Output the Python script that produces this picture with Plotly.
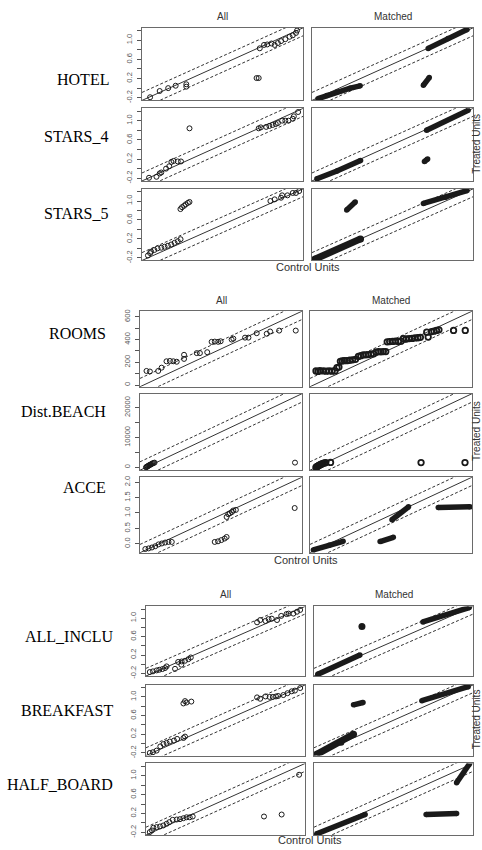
import plotly.graph_objects as go

# ---------------- data ----------------
variables = ["HOTEL", "STARS_4", "STARS_5", "ROOMS", "Dist.BEACH", "ACCE",
             "ALL_INCLU", "BREAKFAST", "HALF_BOARD"]
column_titles = ["All", "Matched"]
x_title = "Control Units"
y_title = "Treated Units"

# min / max of the plotted quantiles per variable
data_min = [-0.2, -0.2, -0.2, 10, 0, -0.2, -0.2, -0.2, -0.2]
data_max = [1.2, 1.2, 1.2, 625, 23700, 2.07, 1.2, 1.2, 1.2]

# y tick values / labels
bin_tickvals = [-0.2, 0.0, 0.2, 0.4, 0.6, 0.8, 1.0, 1.2]
bin_ticktext = ["-0.2", "", "0.2", "", "0.6", "", "1.0", ""]
rooms_tickvals = [0, 100, 200, 300, 400, 500, 600]
rooms_ticktext = ["0", "", "200", "", "400", "", "600"]
beach_tickvals = [0, 5000, 10000, 15000, 20000]
beach_ticktext = ["0", "", "10000", "", "20000"]
acce_tickvals = [0, 0.5, 1.0, 1.5, 2.0]
acce_ticktext = ["0.0", "0.5", "1.0", "1.5", "2.0"]

# ---- "All" panels: control quantiles (x) vs treated quantiles (y) ----
hotel_all_ctrl = [-0.18, -0.09, -0.01, 0.06, 0.16, 0.16, 0.82, 0.84, 0.85, 0.89, 0.92,
                  0.96, 0.99, 1.02, 1.05, 1.09, 1.13, 1.16, 1.19, 1.2]
hotel_all_trt = [-0.19, -0.06, 0.0, 0.05, 0.08, 0.03, 0.21, 0.21, 0.83, 0.9, 0.91,
                 0.93, 0.9, 0.94, 0.98, 1.02, 1.07, 1.1, 1.15, 1.2]

stars4_all_ctrl = [-0.19, -0.12, -0.09, -0.075, -0.03, 0.0, 0.02, 0.04, 0.08, 0.11, 0.19,
                   0.84, 0.86, 0.91, 0.94, 0.97, 1.0, 1.02, 1.06, 1.09, 1.12, 1.16, 1.17, 1.21]
stars4_all_trt = [-0.19, -0.17, -0.1, -0.08, 0.0, 0.05, 0.14, 0.16, 0.15, 0.15, 0.84,
                  0.84, 0.86, 0.87, 0.89, 0.91, 0.93, 0.95, 1.0, 1.0, 1.0, 1.04, 1.09, 1.18]

stars5_all_ctrl = [-0.2, -0.18, -0.17, -0.14, -0.11, -0.075, -0.044, -0.013, 0.018, 0.05, 0.08, 0.106,
                   0.105, 0.12, 0.14, 0.155, 0.175, 0.19,
                   0.95, 0.99, 1.05, 1.06, 1.11, 1.16, 1.19, 1.22]
stars5_all_trt = [-0.15, -0.1, -0.07, -0.035, 0.0, 0.013, 0.034, 0.055, 0.082, 0.117, 0.151, 0.193,
                  0.83, 0.87, 0.9, 0.93, 0.96, 0.98,
                  1.0, 1.035, 1.07, 1.12, 1.12, 1.17, 1.17, 1.21]

rooms_all_ctrl = [12, 26, 60, 74, 94, 108, 122, 136, 166, 166, 218, 231, 261, 279, 292, 306,
                  316, 361, 368, 416, 430, 464, 505, 519, 556, 624]
rooms_all_trt = [124, 119, 124, 153, 209, 212, 209, 205, 230, 266, 281, 281, 289, 380, 382, 380,
                 385, 400, 408, 417, 417, 456, 451, 471, 479, 479]

beach_all_ctrl = [0, 80, 180, 260, 350, 450, 560, 680, 800, 930, 1050, 1200, 1350, 23540]
beach_all_trt = [30, 150, 250, 380, 500, 640, 780, 900, 1050, 1200, 1350, 1480, 1600, 1600]

acce_all_ctrl = [-0.21, -0.16, -0.11, -0.06, -0.01, 0.04, 0.09, 0.14, 0.19,
                 0.84, 0.89, 0.94, 0.99, 1.02,
                 1.02, 1.045, 1.07, 1.1, 1.12, 1.16, 2.05]
acce_all_trt = [-0.17, -0.15, -0.12, -0.08, -0.02, 0.01, 0.04, 0.06, 0.06,
                0.06, 0.08, 0.12, 0.17, 0.22,
                0.87, 0.96, 0.99, 1.03, 1.08, 1.1, 1.16]

allinc_all_ctrl = [-0.22, -0.19, -0.155, -0.13, -0.1, -0.075, -0.06, 0.02, 0.05, 0.08, 0.083,
                   0.115, 0.147, 0.17,
                   0.8, 0.83, 0.88, 0.91, 0.94, 0.99, 1.03, 1.08, 1.1, 1.145, 1.18, 1.21]
allinc_all_trt = [-0.17, -0.155, -0.134, -0.12, -0.105, -0.083, -0.047, -0.1, 0.05, -0.01, 0.06,
                  0.075, 0.11, 0.147,
                  0.91, 0.96, 0.94, 0.98, 0.99, 0.96, 1.05, 1.09, 1.1, 1.1, 1.14, 1.18]

bkf_all_ctrl = [0.1, 0.115, 0.13, 0.175,
                -0.22, -0.19, -0.155, -0.12, -0.09, -0.06, -0.03, 0.01, 0.04, 0.1, 0.115,
                0.8, 0.83, 0.88, 0.92, 0.95, 0.98, 1.0, 1.05, 1.09, 1.13, 1.16, 1.21]
bkf_all_trt = [0.86, 0.91, 0.88, 0.9,
               -0.2, -0.185, -0.15, -0.06, -0.01, 0.015, 0.044, 0.065, 0.1, 0.12, 0.15,
               0.99, 0.96, 1.01, 1.0, 1.0, 1.01, 1.02, 1.04, 1.08, 1.12, 1.135, 1.19]

hb_all_ctrl = [-0.22, -0.2, -0.186, -0.155, -0.123, -0.091, -0.06, -0.034, -0.002, 0.036, 0.067,
               0.1, 0.13, 0.16, 0.188, 0.866, 1.034, 1.2]
hb_all_trt = [-0.193, -0.158, -0.102, -0.088, -0.074, -0.053, -0.018, 0.017, 0.066, 0.073, 0.08,
              0.1, 0.12, 0.12, 0.136, 0.136, 0.178, 1.018]

# ---- "Matched" panels: dense runs of quantiles (x list, y list) ----
hotel_m_runs = [([-0.2, -0.116, -0.022, 0.103, 0.196], [-0.22, -0.152, -0.083, 0.0, 0.048]),
                ([0.79, 0.845], [0.06, 0.22]),
                ([0.835, 1.022, 1.2], [0.828, 1.035, 1.22])]
stars4_m_runs = [([-0.21, -0.022, 0.2], [-0.21, -0.05, 0.17]),
                 ([0.8, 0.83], [0.15, 0.2]),
                 ([0.82, 1.21], [0.8, 1.215])]
stars5_m_runs = [([-0.23, 0.2], [-0.23, 0.2]),
                 ([0.07, 0.15], [0.81, 0.98]),
                 ([0.79, 1.0, 1.2], [0.95, 1.08, 1.22])]
acce_m_runs = [([-0.24, 0.0, 0.21], [-0.2, -0.05, 0.08]),
               ([0.77, 0.97], [0.07, 0.21]),
               ([0.95, 1.2], [0.78, 1.2]),
               ([1.65, 2.13], [1.18, 1.2])]
allinc_m_runs = [([-0.22, 0.18], [-0.22, 0.2]),
                 ([0.2], [0.82]),
                 ([0.78, 1.22], [0.92, 1.23])]
bkf_m_runs = [([-0.23, 0.0, 0.12], [-0.23, 0.03, 0.2]),
              ([0.12, 0.21], [0.83, 0.88]),
              ([0.77, 1.21], [0.92, 1.22])]
hb_m_runs = [([-0.23, 0.23], [-0.23, 0.18]),
             ([0.81, 1.1], [0.178, 0.2]),
             ([1.1, 1.22], [0.85, 1.24])]

# ---- "Matched" panels: individual quantile points ----
rooms_m_ctrl = [10, 18, 26, 40, 52, 64, 76, 88, 96, 104, 110, 118, 126, 136, 148, 160, 172, 184,
                194, 204, 214, 224, 236, 246, 256, 266, 276, 286, 296, 302, 312, 324, 336, 348,
                358, 368, 380, 392, 404, 416, 428, 438, 464, 470, 484, 494, 504, 514, 574, 622]
rooms_m_trt = [124, 120, 126, 124, 122, 124, 122, 124, 153, 158, 209, 212, 215, 214, 218, 222, 226,
               252, 258, 266, 266, 268, 272, 275, 290, 294, 292, 294, 294, 380, 382, 384, 386, 384,
               386, 409, 405, 409, 410, 414, 416, 420, 465, 422, 470, 474, 480, 486, 480, 480]
beach_m_ctrl = [0, 60, 140, 220, 320, 430, 550, 680, 820, 980, 1150, 1350, 1550, 2300, 16600, 23540]
beach_m_trt = [20, 120, 230, 350, 480, 620, 760, 900, 1050, 1200, 1350, 1500, 1600, 1650, 1600, 1600]

all_panels = [(hotel_all_ctrl, hotel_all_trt), (stars4_all_ctrl, stars4_all_trt),
              (stars5_all_ctrl, stars5_all_trt), (rooms_all_ctrl, rooms_all_trt),
              (beach_all_ctrl, beach_all_trt), (acce_all_ctrl, acce_all_trt),
              (allinc_all_ctrl, allinc_all_trt), (bkf_all_ctrl, bkf_all_trt),
              (hb_all_ctrl, hb_all_trt)]
matched_runs = [hotel_m_runs, stars4_m_runs, stars5_m_runs, [], [], acce_m_runs,
                allinc_m_runs, bkf_m_runs, hb_m_runs]
matched_points = [None, None, None, (rooms_m_ctrl, rooms_m_trt), (beach_m_ctrl, beach_m_trt),
                  None, None, None, None]
ticks = [(bin_tickvals, bin_ticktext)] * 3 + [(rooms_tickvals, rooms_ticktext),
         (beach_tickvals, beach_ticktext), (acce_tickvals, acce_ticktext)] + \
        [(bin_tickvals, bin_ticktext)] * 3

# ---------------- layout / style ----------------
W, H = 482, 850
BLOCKS = [
    dict(ax=(142, 303), mx=(312, 473), rows=[(26, 99), (107, 180), (188, 260)],
         title_y=15, cu_y=267, tu_y=143, lab_r=111, lab_y=[78, 135, 213]),
    dict(ax=(140, 302), mx=(310, 472), rows=[(311, 387), (394, 471), (478, 554)],
         title_y=300, cu_y=561, tu_y=432, lab_r=108, lab_y=[333, 412, 488]),
    dict(ax=(146, 305), mx=(314, 473), rows=[(608, 678), (687, 758), (766, 838)],
         title_y=596, cu_y=843, tu_y=722, lab_r=115, lab_y=[638, 713, 787]),
]
RUN_WIDTH = 5.5
RUN_WIDTH_SPECIAL = {(2, 0): 7, (7, 0): 7, (6, 1): 7}
INK = "#1a1a1a"
FRAME = "#6a6a6a"
SANS = "Liberation Sans, Arial, sans-serif"
SERIF = "Liberation Serif, Times New Roman, serif"


def fx(px):
    return px / W


def fy(py):
    return 1 - py / H


fig = go.Figure()
layout = dict(width=W, height=H, margin=dict(l=0, r=0, t=0, b=0),
              paper_bgcolor="white", plot_bgcolor="white", showlegend=False)
annotations = []

for v, name in enumerate(variables):
    b = BLOCKS[v // 3]
    r = v % 3
    y0, y1 = b["rows"][r]
    lo_d, hi_d = data_min[v], data_max[v]
    span = hi_d - lo_d
    lo, hi = lo_d - 0.04 * span, hi_d + 0.04 * span
    off = 0.11 * (hi - lo)
    for p in range(2):
        k = 2 * v + p + 1
        xa = "xaxis" if k == 1 else f"xaxis{k}"
        ya = "yaxis" if k == 1 else f"yaxis{k}"
        xr = "x" if k == 1 else f"x{k}"
        yr = "y" if k == 1 else f"y{k}"
        x0, x1 = b["ax"] if p == 0 else b["mx"]
        layout[xa] = dict(domain=[fx(x0), fx(x1)], range=[lo, hi], anchor=yr,
                          showline=True, mirror=True, linecolor=FRAME, linewidth=1.3,
                          showgrid=False, zeroline=False, showticklabels=False, ticks="")
        yax = dict(domain=[fy(y1), fy(y0)], range=[lo, hi], anchor=xr,
                   showline=True, mirror=True, linecolor=FRAME, linewidth=1.3,
                   showgrid=False, zeroline=False)
        if p == 0:
            tv, tt = ticks[v]
            yax.update(tickmode="array", tickvals=tv, ticktext=tt, ticks="outside",
                       ticklen=4, tickwidth=1, tickcolor="#555", tickangle=-90,
                       ticklabelstandoff=2,
                       tickfont=dict(family=SANS, size=7.5, color="#555"))
        else:
            yax.update(showticklabels=False, ticks="")
        layout[ya] = yax

        # reference lines: 45-degree line and +/- band
        fig.add_trace(go.Scatter(x=[lo, hi], y=[lo, hi], mode="lines", xaxis=xr, yaxis=yr,
                                 line=dict(color="#333", width=1), hoverinfo="skip"))
        for s in (1, -1):
            fig.add_trace(go.Scatter(x=[lo, hi], y=[lo + s * off, hi + s * off], mode="lines",
                                     xaxis=xr, yaxis=yr, hoverinfo="skip",
                                     line=dict(color="#333", width=1, dash="3px,2px")))

        if p == 0:
            cx, cy = all_panels[v]
            fig.add_trace(go.Scatter(x=cx, y=cy, mode="markers", xaxis=xr, yaxis=yr,
                                     marker=dict(symbol="circle-open", size=5, color=INK,
                                                 line=dict(width=1, color=INK))))
        else:
            for j, (rx, ry) in enumerate(matched_runs[v]):
                w = RUN_WIDTH_SPECIAL.get((v, j), RUN_WIDTH)
                fig.add_trace(go.Scatter(x=rx, y=ry, mode="lines+markers", xaxis=xr, yaxis=yr,
                                         line=dict(color=INK, width=w),
                                         marker=dict(symbol="circle", size=w, color=INK)))
            if matched_points[v] is not None:
                mxv, myv = matched_points[v]
                fig.add_trace(go.Scatter(x=mxv, y=myv, mode="markers", xaxis=xr, yaxis=yr,
                                         marker=dict(symbol="circle-open", size=5.5, color=INK,
                                                     line=dict(width=1.8, color=INK))))

    # row label
    annotations.append(dict(text=name, x=fx(b["lab_r"]), y=fy(b["lab_y"][r]), xref="paper",
                            yref="paper", xanchor="right", yanchor="middle", showarrow=False,
                            font=dict(family=SERIF, size=16, color="#000")))

for b in BLOCKS:
    for p, t in enumerate(column_titles):
        x0, x1 = b["ax"] if p == 0 else b["mx"]
        annotations.append(dict(text=t, x=fx((x0 + x1) / 2), y=fy(b["title_y"]), xref="paper",
                                yref="paper", xanchor="center", yanchor="middle",
                                showarrow=False, font=dict(family=SANS, size=10, color="#333")))
    annotations.append(dict(text=x_title, x=fx((b["ax"][0] + b["mx"][1]) / 2), y=fy(b["cu_y"]),
                            xref="paper", yref="paper", xanchor="center", yanchor="middle",
                            showarrow=False, font=dict(family=SANS, size=11, color="#333")))
    annotations.append(dict(text=y_title, x=fx(476.5), y=fy(b["tu_y"]), xref="paper",
                            yref="paper", xanchor="center", yanchor="middle", textangle=-90,
                            borderpad=0,
                            showarrow=False, font=dict(family=SANS, size=10, color="#333")))

layout["annotations"] = annotations
fig.update_layout(**layout)
fig.write_html("out.html", config={"displayModeBar": False},
               post_script="document.body.style.margin='0';document.body.style.overflow='hidden';")
